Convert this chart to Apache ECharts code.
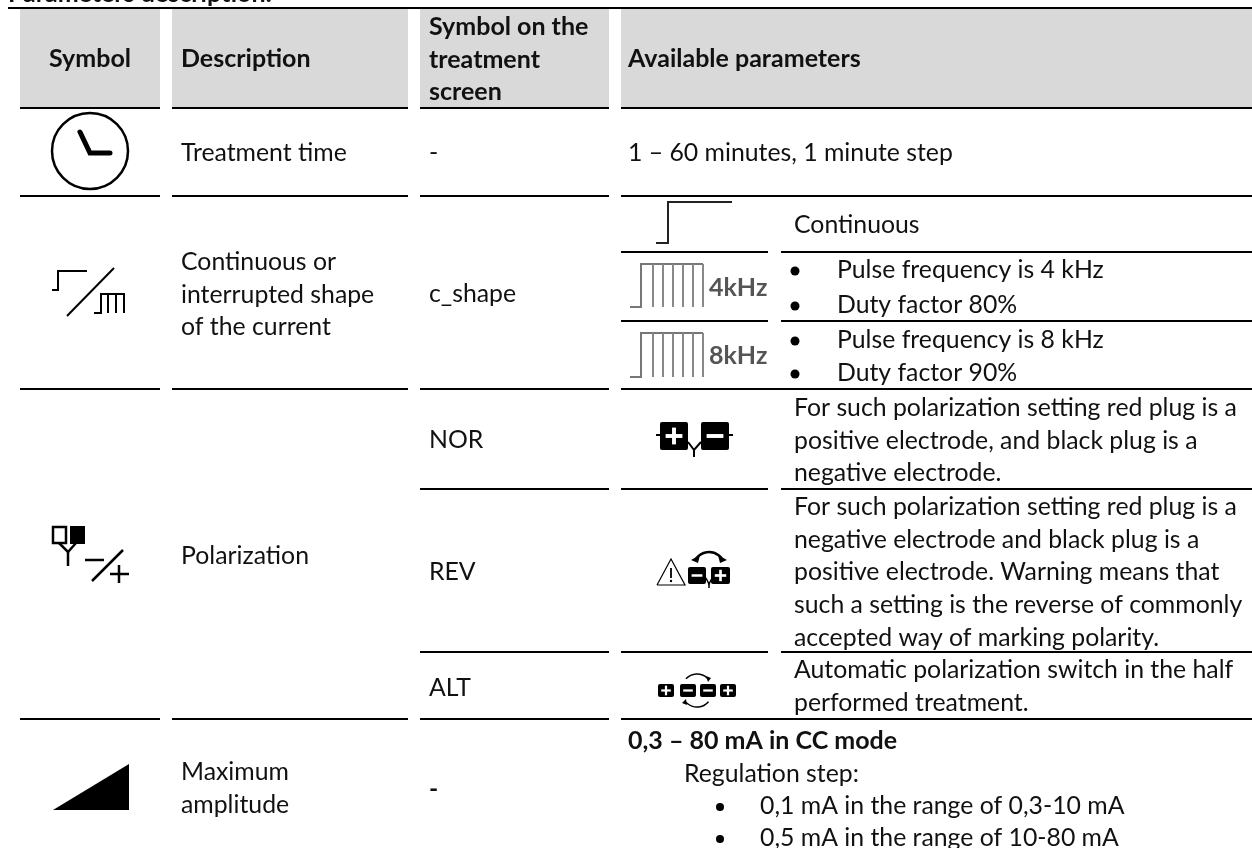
<!DOCTYPE html>
<html>
<head>
<meta charset="utf-8">
<style>html,body{margin:0;padding:0;background:#fff}#chart{width:1252px;height:848px}</style>
<script src="https://cdn.jsdelivr.net/npm/echarts@6/dist/echarts.min.js"></script>
</head>
<body>
<div id="chart"></div>
<script>
const pageTitle = 'Parameters description:';
const headers = ['Symbol', 'Description', 'Symbol on the\ntreatment\nscreen', 'Available parameters'];
const descriptions = ['Treatment time', 'Continuous or\ninterrupted shape\nof the current', 'Polarization', 'Maximum\namplitude'];
const screenSymbols = ['-', 'c_shape', 'NOR', 'REV', 'ALT', '-'];
const treatmentTime = '1 \u2013 60 minutes, 1 minute step';
const shapeContinuous = 'Continuous';
const shape4k = ['Pulse frequency is 4 kHz', 'Duty factor 80%'];
const shape8k = ['Pulse frequency is 8 kHz', 'Duty factor 90%'];
const polarNor = 'For such polarization setting red plug is a\npositive electrode, and black plug is a\nnegative electrode.';
const polarRev = 'For such polarization setting red plug is a\nnegative electrode and black plug is a\npositive electrode. Warning means that\nsuch a setting is the reverse of commonly\naccepted way of marking polarity.';
const polarAlt = 'Automatic polarization switch in the half\nperformed treatment.';
const ampTitle = '0,3 \u2013 80 mA in CC mode';
const ampStep = 'Regulation step:';
const ampBullets = ['0,1 mA in the range of 0,3-10 mA', '0,5 mA in the range of 10-80 mA'];

const FONT = 'Lato';
const SIZE = 24.8;
const LH = 32.7;
const els = [];

function txt(x, yc, s, o) {
  o = o || {};
  const lines = s.split('\n');
  lines.forEach(function (l, i) {
    els.push({ type: 'text', x: x, y: yc + i * LH, style: {
      text: l, fill: o.fill || '#111', font: (o.bold ? 'bold ' : '') + (o.size || SIZE) + 'px ' + FONT,
      align: o.align || 'left', verticalAlign: 'middle' } });
  });
}
function rule(x1, x2, y) {
  els.push({ type: 'rect', shape: { x: x1, y: y - 1, width: x2 - x1, height: 2 }, style: { fill: '#000' } });
}
function box(x, y, w, h, fill) {
  els.push({ type: 'rect', shape: { x: x, y: y, width: w, height: h }, style: { fill: fill || '#000' } });
}
function path(pts, w, stroke, cap) {
  els.push({ type: 'polyline', shape: { points: pts }, style: { stroke: stroke || '#000', lineWidth: w || 2, fill: 'none', lineCap: cap || 'butt', lineJoin: 'miter' } });
}
function arc(cx, cy, r, a0, a1, w) {
  els.push({ type: 'arc', shape: { cx: cx, cy: cy, r: r, startAngle: a0, endAngle: a1 }, style: { stroke: '#000', lineWidth: w || 2, fill: 'none' } });
}
function tri(pts) {
  els.push({ type: 'polygon', shape: { points: pts }, style: { fill: '#000' } });
}
function pulses(x0, top, bottom, xs) {
  path([[x0, bottom], [xs[0], bottom], [xs[0], top], [xs[xs.length - 1], top]], 2, '#777');
  xs.slice(1).forEach(function (x) { path([[x, top], [x, bottom]], 2, '#888'); });
}
function plug(x, y, w, h, sign) {
  els.push({ type: 'rect', shape: { x: x, y: y, width: w, height: h, r: 2 }, style: { fill: '#000' } });
  const cx = x + w / 2, cy = y + h / 2, a = w * 0.3, t = Math.max(2, w * 0.14);
  box(cx - a, cy - t / 2, a * 2, t, '#fff');
  if (sign === '+') box(cx - t / 2, cy - a, t, a * 2, '#fff');
}
function bullet(cx, cy, r) {
  els.push({ type: 'circle', shape: { cx: cx, cy: cy, r: r }, style: { fill: '#000' } });
}

// title cut by the page top
txt(8, -6, pageTitle, { bold: true, size: 25 });
rule(8, 1252, 8);

// header cells
const cols = [[20, 160], [172, 408], [420, 609], [621, 1252]];
cols.forEach(function (c) { box(c[0], 9, c[1] - c[0], 98, '#d9d9d9'); });
txt(90, 59, headers[0], { bold: true, size: 25, align: 'center' });
txt(181, 59, headers[1], { bold: true, size: 25 });
txt(429, 27, headers[2], { bold: true, size: 25 });
txt(628, 59, headers[3], { bold: true, size: 25 });

// row rules
[108, 196, 389, 719].forEach(function (y) {
  cols.forEach(function (c) { rule(c[0], c[1], y); });
});
[196, 252, 321, 389, 489, 652].forEach(function (y) {
  rule(621, 768, y); rule(781, 1252, y);
});
rule(420, 609, 489); rule(420, 609, 652);

// text columns
txt(181, 153, descriptions[0]);
txt(181, 262, descriptions[1]);
txt(181, 556, descriptions[2]);
txt(181, 772, descriptions[3]);
txt(429, 153, screenSymbols[0]);
txt(429, 294, screenSymbols[1]);
txt(429, 440, screenSymbols[2]);
txt(429, 572, screenSymbols[3]);
txt(429, 688, screenSymbols[4]);
txt(429, 789, screenSymbols[5], { bold: true });
txt(628, 153, treatmentTime);
txt(794, 225, shapeContinuous);
[[270, shape4k[0]], [305, shape4k[1]], [340, shape8k[0]], [373, shape8k[1]]].forEach(function (r) {
  bullet(795, r[0] + 1, 4.5);
  txt(837, r[0], r[1]);
});
txt(794, 408, polarNor);
txt(794, 507, polarRev);
txt(794, 670, polarAlt);
txt(628, 741, ampTitle, { bold: true, size: 25 });
txt(684, 774, ampStep);
[[806, ampBullets[0]], [838, ampBullets[1]]].forEach(function (r) {
  bullet(720, r[0] + 1, 4);
  txt(760, r[0], r[1]);
});

// clock
els.push({ type: 'circle', shape: { cx: 90, cy: 151, r: 38 }, style: { stroke: '#000', lineWidth: 2.5, fill: 'none' } });
path([[80, 132], [90, 153], [110, 153]], 5, '#000', 'round');

// continuous / interrupted symbol
path([[52, 290], [58, 290], [58, 271], [87, 271]], 2);
path([[67, 316], [114, 268]], 2);
path([[94, 313], [101, 313], [101, 294], [125, 294]], 2);
[108, 116, 124].forEach(function (x) { path([[x, 294], [x, 313]], 2); });

// polarization symbol
els.push({ type: 'rect', shape: { x: 53, y: 527, width: 13, height: 16 }, style: { stroke: '#000', lineWidth: 2.5, fill: '#fff' } });
box(70, 526, 15, 18);
path([[59, 543], [68, 552], [76, 543]], 2.5);
path([[68, 552], [68, 566]], 2.5);
path([[85, 560], [104, 560]], 2.5);
path([[92, 581], [123, 550]], 2.5);
path([[110, 574], [129, 574]], 2.5);
path([[119, 565], [119, 583]], 2.5);

// shape icons of the parameters column
path([[656, 243], [668, 243], [668, 202], [732, 202]], 2, '#222');
pulses(630, 264, 307, [641, 653, 663, 673, 683, 693, 703]);
txt(709, 288, '4kHz', { bold: true, fill: '#555', size: 25 });
pulses(630, 333, 377, [641, 653, 663, 673, 683, 693, 703]);
txt(709, 356, '8kHz', { bold: true, fill: '#555', size: 25 });

// NOR icon
plug(660, 422, 28, 28, '+');
plug(701, 422, 28, 28, '-');
box(656, 434, 4, 2); box(729, 434, 4, 2);
path([[688, 442], [694, 450], [701, 442]], 2);
path([[694, 450], [694, 457]], 2);

// REV icon
path([[657, 585], [671, 559], [685, 585], [657, 585]], 1.2);
path([[671, 568], [671, 578]], 1.8);
bullet(671, 581, 1.2);
plug(688, 567, 18, 17, '-');
plug(711, 567, 19, 17, '+');
arc(709, 568, 16, -2.5, -0.65, 2.5);
tri([[691, 560], [700, 555], [698, 563]]);
tri([[727, 560], [718, 555], [720, 563]]);
path([[706, 578], [709, 584], [712, 578]], 1.5);
path([[709, 584], [709, 588]], 1.5);

// ALT icon
plug(658, 684, 16, 13, '+');
plug(680, 684, 16, 13, '-');
plug(700, 684, 16, 13, '-');
plug(720, 684, 16, 13, '+');
arc(697, 689, 15, -2.4, -0.7, 1.5);
arc(697, 692, 15, 0.7, 2.4, 1.5);
tri([[706, 676], [711, 678], [708, 682]]);
tri([[687, 705], [682, 703], [686, 699]]);

// amplitude triangle
tri([[53, 810], [129, 810], [129, 764]]);

const chart = echarts.init(document.getElementById('chart'), null, { renderer: 'canvas' });
chart.setOption({ backgroundColor: '#fff', animation: false, graphic: { elements: els } });
</script>
</body>
</html>
